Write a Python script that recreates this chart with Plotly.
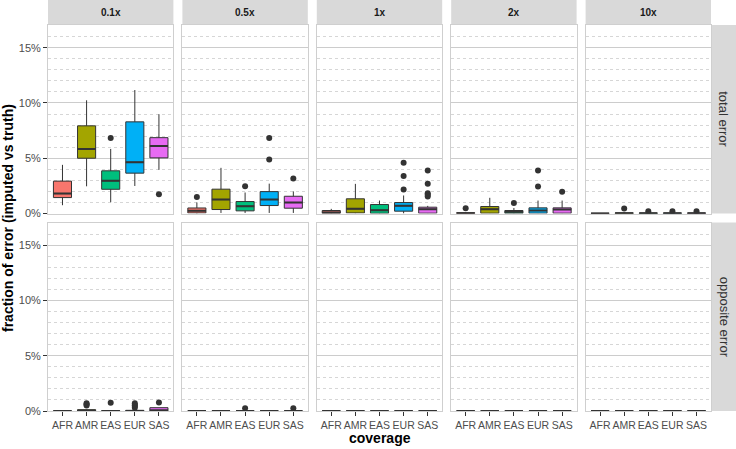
import plotly.graph_objects as go

COVERAGES = ["0.1x", "0.5x", "1x", "2x", "10x"]
REGIONS = ["AFR", "AMR", "EAS", "EUR", "SAS"]
ERROR_TYPES = ["total error", "opposite error"]
COLORS = ["#F8766D", "#A3A500", "#00BF7D", "#00B0F6", "#E76BF3"]

# values in percent; rows = coverage, columns = region
TOTAL_LOWER = [[0.75, 2.46, 1.02, 2.49, 3.95],
               [0.00, 0.05, 0.05, 0.05, 0.05],
               [0.00, 0.02, 0.00, 0.00, 0.02],
               [0.00, 0.02, 0.00, 0.02, 0.02],
               [0.00, 0.00, 0.00, 0.00, 0.00]]
TOTAL_Q1 = [[1.44, 5.00, 2.19, 3.65, 5.03],
            [0.05, 0.36, 0.24, 0.72, 0.48],
            [0.02, 0.05, 0.02, 0.21, 0.03],
            [0.01, 0.03, 0.02, 0.03, 0.03],
            [0.00, 0.00, 0.00, 0.00, 0.00]]
TOTAL_MEDIAN = [[1.80, 5.84, 2.96, 4.64, 6.10],
                [0.25, 1.26, 0.66, 1.26, 0.99],
                [0.10, 0.42, 0.30, 0.69, 0.39],
                [0.03, 0.39, 0.15, 0.27, 0.36],
                [0.01, 0.03, 0.02, 0.02, 0.02]]
TOTAL_Q3 = [[2.93, 7.93, 3.86, 8.29, 6.86],
            [0.50, 2.20, 1.08, 1.98, 1.56],
            [0.27, 1.33, 0.81, 0.99, 0.57],
            [0.06, 0.63, 0.27, 0.51, 0.51],
            [0.02, 0.05, 0.04, 0.04, 0.04]]
TOTAL_UPPER = [[4.40, 10.24, 5.84, 11.17, 8.98],
               [1.00, 4.13, 1.90, 2.70, 2.00],
               [0.42, 2.68, 1.17, 1.63, 0.69],
               [0.10, 1.42, 0.50, 1.17, 1.17],
               [0.03, 0.10, 0.06, 0.06, 0.06]]
TOTAL_OUTLIERS = [[[], [], [6.83], [], [1.74]],
                  [[1.50], [], [2.46], [4.88, 6.83], [3.17]],
                  [[], [], [], [4.60, 3.40, 2.17], [3.90, 2.70, 1.84, 1.70, 1.54]],
                  [[0.48], [], [0.96], [2.44, 3.90], [1.96]],
                  [[], [0.45], [0.20], [0.20], [0.20]]]

OPP_LOWER = [[0.0] * 5 for _ in range(5)]
OPP_Q1 = [[0.0] * 5 for _ in range(5)]
OPP_MEDIAN = [[0.00, 0.02, 0.00, 0.01, 0.05],
              [0.0] * 5, [0.0] * 5, [0.0] * 5, [0.0] * 5]
OPP_Q3 = [[0.00, 0.12, 0.02, 0.06, 0.30],
          [0.0] * 5, [0.0] * 5, [0.0] * 5, [0.0] * 5]
OPP_UPPER = [[0.00, 0.15, 0.03, 0.10, 0.30],
             [0.0] * 5, [0.0] * 5, [0.0] * 5, [0.0] * 5]
OPP_OUTLIERS = [[[], [0.50, 0.60, 0.70], [0.75], [0.30, 0.45, 0.55, 0.70], [0.78]],
                [[], [], [0.25], [], [0.25]],
                [[], [], [], [], []],
                [[], [], [], [], []],
                [[], [], [], [], []]]

STATS = [
    (TOTAL_LOWER, TOTAL_Q1, TOTAL_MEDIAN, TOTAL_Q3, TOTAL_UPPER, TOTAL_OUTLIERS),
    (OPP_LOWER, OPP_Q1, OPP_MEDIAN, OPP_Q3, OPP_UPPER, OPP_OUTLIERS),
]

Y_TICKS = [0, 0.05, 0.10, 0.15]
Y_TICK_TEXT = ["0%", "5%", "10%", "15%"]

# ---------------- layout geometry ----------------
W, H = 736, 449
ML, MR, MT, MB = 48, 25, 25, 38
PW, PH = W - ML - MR, H - MT - MB
GAP_X, GAP_Y = 9, 9
CW = (PW - 4 * GAP_X) / 5
RH = (PH - GAP_Y) / 2
BOX_W = 0.75
OUTLINE = "#333333"
FONT = "Liberation Sans, Arial, sans-serif"

fig = go.Figure()
layout = dict(
    width=W, height=H, margin=dict(l=ML, r=MR, t=MT, b=MB),
    paper_bgcolor="white", plot_bgcolor="white", showlegend=False,
    font=dict(family=FONT, size=11, color="#4d4d4d"),
)
shapes, annotations = [], []

for r in range(2):
    lower, q1, med, q3, upper, outl = STATS[r]
    y0 = 1 - (r * (RH + GAP_Y) + RH) / PH
    y1 = 1 - (r * (RH + GAP_Y)) / PH
    for c in range(5):
        k = r * 5 + c + 1
        xa = "x" if k == 1 else f"x{k}"
        ya = "y" if k == 1 else f"y{k}"
        x0 = c * (CW + GAP_X) / PW
        x1 = (c * (CW + GAP_X) + CW) / PW
        layout["xaxis" if k == 1 else f"xaxis{k}"] = dict(
            domain=[x0, x1], anchor=ya, range=[-0.6, 4.6],
            tickvals=list(range(5)), ticktext=REGIONS, tickangle=0,
            showticklabels=(r == 1), ticks="outside" if r == 1 else "",
            ticklen=4, tickcolor=OUTLINE, showgrid=False, zeroline=False,
            showline=True, mirror=True, linecolor="#cfcfcf", linewidth=1,
            tickfont=dict(size=10.5, color="#4d4d4d"), fixedrange=True,
        )
        layout["yaxis" if k == 1 else f"yaxis{k}"] = dict(
            domain=[y0, y1], anchor=xa, range=[0, 0.1705],
            tickvals=Y_TICKS, ticktext=Y_TICK_TEXT,
            showticklabels=(c == 0), ticks="outside" if c == 0 else "",
            ticklen=4, tickcolor=OUTLINE,
            showgrid=True, gridcolor="#cccccc", gridwidth=1.2, zeroline=False,
            minor=dict(dtick=0.01, tick0=0, showgrid=True, gridcolor="#d6d6d6",
                       griddash="dot", gridwidth=0.8, ticks=""),
            showline=True, mirror=True, linecolor="#cfcfcf", linewidth=1,
            tickfont=dict(size=11, color="#4d4d4d"), fixedrange=True,
        )
        for i, reg in enumerate(REGIONS):
            fig.add_trace(go.Box(
                x=[i], q1=[q1[c][i] / 100], median=[med[c][i] / 100],
                q3=[q3[c][i] / 100], lowerfence=[lower[c][i] / 100],
                upperfence=[upper[c][i] / 100], width=BOX_W, whiskerwidth=0,
                fillcolor=COLORS[i], line=dict(color=OUTLINE, width=1),
                boxpoints=False, xaxis=xa, yaxis=ya, hoverinfo="skip",
            ))
            fig.add_trace(go.Scatter(
                x=[i - BOX_W / 2, i + BOX_W / 2],
                y=[med[c][i] / 100, med[c][i] / 100],
                mode="lines", line=dict(color=OUTLINE, width=2),
                xaxis=xa, yaxis=ya, hoverinfo="skip",
            ))
            if outl[c][i]:
                fig.add_trace(go.Scatter(
                    x=[i] * len(outl[c][i]), y=[v / 100 for v in outl[c][i]],
                    mode="markers", marker=dict(color=OUTLINE, size=6),
                    xaxis=xa, yaxis=ya, hoverinfo="skip",
                ))
        # top strips
        if r == 0:
            shapes.append(dict(type="rect", xref="paper", yref="paper",
                               x0=x0, x1=x1, y0=1 + 0.5 / PH, y1=1 + MT / PH,
                               fillcolor="#d9d9d9", line=dict(width=0), layer="below"))
            annotations.append(dict(text=f"<b>{COVERAGES[c]}</b>", xref="paper", yref="paper",
                                    x=(x0 + x1) / 2, y=1 + (MT / 2) / PH, showarrow=False,
                                    xanchor="center", yanchor="middle",
                                    font=dict(size=10, color="#1a1a1a")))
    # right strips
    shapes.append(dict(type="rect", xref="paper", yref="paper",
                       x0=1 + 0.5 / PW, x1=1 + MR / PW, y0=y0, y1=y1,
                       fillcolor="#d9d9d9", line=dict(width=0), layer="below"))
    annotations.append(dict(text=ERROR_TYPES[r], xref="paper", yref="paper",
                            x=1 + (MR / 2 + 0.5) / PW, y=(y0 + y1) / 2, showarrow=False,
                            textangle=90, xanchor="center", yanchor="middle",
                            font=dict(size=13, color="#333333")))

annotations.append(dict(text="<b>fraction of error (imputed vs truth)</b>", xref="paper",
                        yref="paper", x=-40 / PW, y=0.5, showarrow=False, textangle=-90,
                        xanchor="center", yanchor="middle",
                        font=dict(size=14, color="black")))
annotations.append(dict(text="<b>coverage</b>", xref="paper", yref="paper",
                        x=0.5, y=-27 / PH, showarrow=False, xanchor="center",
                        yanchor="middle", font=dict(size=14, color="black")))

layout["shapes"] = shapes
layout["annotations"] = annotations
fig.update_layout(**layout)
fig.write_html("out.html")
